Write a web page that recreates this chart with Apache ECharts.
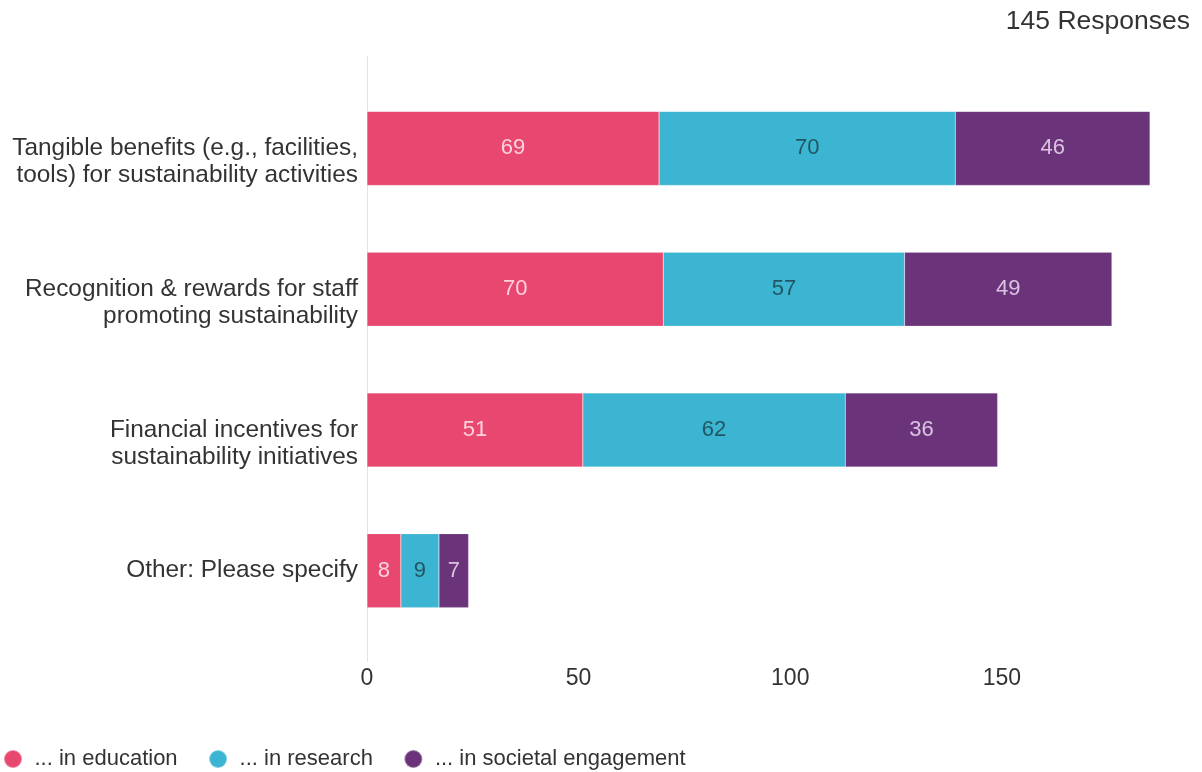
<!DOCTYPE html>
<html>
<head>
<meta charset="utf-8">
<script src="https://cdn.jsdelivr.net/npm/echarts@6/dist/echarts.min.js"></script>
<style>
  html, body { margin: 0; padding: 0; background: #fff; }
  #chart { width: 1202px; height: 772px; }
</style>
</head>
<body>
<div id="chart"></div>
<script>
// Survey: incentives for sustainability work, split by area of activity
const categories = [
  'Tangible benefits (e.g., facilities,\ntools) for sustainability activities',
  'Recognition & rewards for staff\npromoting sustainability',
  'Financial incentives for\nsustainability initiatives',
  'Other: Please specify'
];
const seriesNames = ['... in education', '... in research', '... in societal engagement'];
const education = [69, 70, 51, 8];
const research = [70, 57, 62, 9];
const societal = [46, 49, 36, 7];
const xTicks = [0, 50, 100, 150];
const responsesLabel = '145 Responses';

const colors = ['#E8476F', '#3BB5D1', '#6B347A'];
const labelColors = ['rgba(255,235,242,0.85)', 'rgba(30,60,70,0.8)', 'rgba(245,230,250,0.8)'];
const font = '"Liberation Sans", Arial, sans-serif';

const chart = echarts.init(document.getElementById('chart'));

function makeSeries(name, data, i) {
  return {
    name: name,
    type: 'bar',
    stack: 'total',
    data: data,
    barWidth: 74,
    itemStyle: { color: colors[i], borderColor: 'rgba(255,255,255,0.35)', borderWidth: 0.5 },
    label: {
      show: true,
      position: 'inside',
      color: labelColors[i],
      fontSize: 22,
      fontFamily: font
    },
    emphasis: { disabled: true }
  };
}

chart.setOption({
  animation: false,
  title: {
    text: responsesLabel,
    right: 7,
    top: 3,
    textStyle: { fontSize: 26.5, fontWeight: 'normal', color: '#333', fontFamily: font }
  },
  legend: {
    left: 3,
    top: 748,
    padding: 0,
    icon: 'circle',
    itemWidth: 18,
    itemHeight: 18,
    itemGap: 30.5,
    data: seriesNames,
    textStyle: { fontSize: 22, color: '#333', fontFamily: font, padding: [0, 0, 0, 7.5] }
  },
  grid: { left: 367, right: 52, top: 78, bottom: 131, containLabel: false },
  xAxis: {
    type: 'value',
    min: 0,
    max: 185,
    interval: 50,
    splitLine: { show: false },
    axisLine: { show: false },
    axisTick: { show: false },
    axisLabel: {
      margin: 26,
      fontSize: 23,
      color: '#333',
      fontFamily: font,
      showMaxLabel: false,
      formatter: function (v) { return xTicks.indexOf(v) >= 0 ? String(v) : ''; }
    }
  },
  yAxis: {
    type: 'category',
    inverse: true,
    data: categories,
    axisLine: { show: false },
    axisTick: { show: false },
    axisLabel: {
      margin: 9,
      fontSize: 24.4,
      lineHeight: 27,
      color: '#333',
      fontFamily: font,
      // keep the first line of each label level with its bar's centre
      formatter: function (v) {
        const n = v.split('\n').length;
        return '\n'.repeat(n - 1) + v;
      }
    }
  },
  series: [
    makeSeries(seriesNames[0], education, 0),
    makeSeries(seriesNames[1], research, 1),
    makeSeries(seriesNames[2], societal, 2)
  ]
});

// baseline rule at zero, running a little beyond the plot area
const x0 = Math.round(chart.convertToPixel({ xAxisIndex: 0 }, 0)) + 0.5;
chart.setOption({
  graphic: [{
    type: 'line',
    z: -1,
    shape: { x1: x0, y1: 56, x2: x0, y2: 662 },
    style: { stroke: '#e3e3e3', lineWidth: 1 }
  }]
});
</script>
</body>
</html>
